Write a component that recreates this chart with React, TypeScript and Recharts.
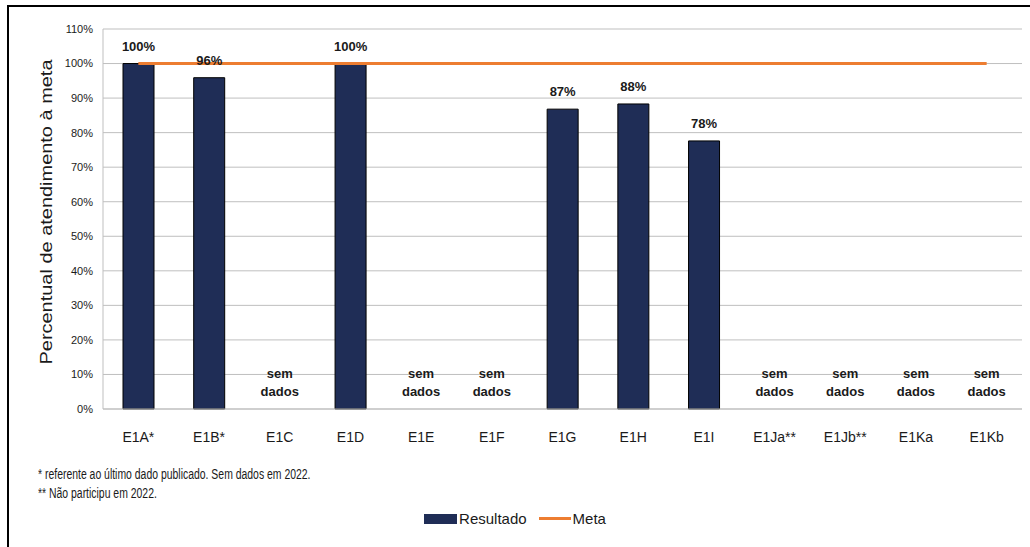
import React from "react";
import { ComposedChart, Bar, Line, XAxis, YAxis, CartesianGrid, Legend, LabelList } from "recharts";

const categories = ["E1A*", "E1B*", "E1C", "E1D", "E1E", "E1F", "E1G", "E1H", "E1I", "E1Ja**", "E1Jb**", "E1Ka", "E1Kb"];
const resultado: (number | null)[] = [100, 95.9, null, 100, null, null, 86.8, 88.3, 77.6, null, null, null, null];
const resultadoLabels = ["100%", "96%", "", "100%", "", "", "87%", "88%", "78%", "", "", "", ""];
const meta = [100, 100, 100, 100, 100, 100, 100, 100, 100, 100, 100, 100, 100];
const yTicks = [0, 10, 20, 30, 40, 50, 60, 70, 80, 90, 100, 110];
const footnotes = ["* referente ao último dado publicado. Sem dados em 2022.", "** Não participu em 2022."];

const NAVY = "#1F2D56";
const ORANGE = "#ED7D31";
const TEXT = "#1a1a1a";
const FONT = "'Liberation Sans', Arial, sans-serif";

const data = categories.map((c, i) => ({ name: c, resultado: resultado[i], meta: meta[i] }));

function BarLabel(props: any) {
  const { x, y, width, value } = props;
  const i = categories.indexOf(value);
  if (i < 0 || resultado[i] == null) return null;
  return (
    <text x={Number(x) + Number(width) / 2} y={Number(y) - 13} textAnchor="middle" fontSize={13} fontWeight={700} fill={TEXT} fontFamily={FONT}>
      {resultadoLabels[i]}
    </text>
  );
}

// category label + "sem dados" note for empty categories
function CategoryTick(props: any) {
  const { x, y, payload } = props;
  const i = categories.indexOf(payload.value);
  return (
    <g>
      {resultado[i] == null && (
        <>
          <text x={x} y={y - 31} textAnchor="middle" fontSize={13} fontWeight={700} fill={TEXT} fontFamily={FONT}>sem</text>
          <text x={x} y={y - 13} textAnchor="middle" fontSize={13} fontWeight={700} fill={TEXT} fontFamily={FONT}>dados</text>
        </>
      )}
      <text x={x} y={y + 33} textAnchor="middle" fontSize={14} fill={TEXT} fontFamily={FONT}>{payload.value}</text>
    </g>
  );
}

function LegendContent() {
  return (
    <div style={{ display: "flex", justifyContent: "center", alignItems: "center", fontFamily: FONT, fontSize: 15, color: TEXT }}>
      <span style={{ display: "inline-block", width: 33, height: 10, background: NAVY, marginRight: 2 }} />
      <span style={{ marginRight: 12 }}>Resultado</span>
      <span style={{ display: "inline-block", width: 32, height: 3, background: ORANGE, marginRight: 2 }} />
      <span>Meta</span>
    </div>
  );
}

export default function App() {
  return (
    <div style={{ position: "fixed", left: 0, top: 0, width: 1030, height: 547, background: "#fff", overflow: "hidden" }}>
      <div style={{ position: "absolute", left: 7, top: 5, width: 1040, height: 560, border: "2px solid #000", boxSizing: "border-box" }} />
      <div style={{ position: "absolute", left: 0, top: 0 }}>
        <ComposedChart width={1030} height={547} data={data} margin={{ top: 29, right: 8, left: 43, bottom: 97 }}>
          <CartesianGrid vertical={false} stroke="#BFBFBF" />
          <XAxis
            dataKey="name"
            height={41}
            tickLine={false}
            tickSize={0}
            tickMargin={0}
            axisLine={{ stroke: "#BFBFBF" }}
            tick={<CategoryTick />}
          />
          <YAxis
            width={60}
            domain={[0, 110]}
            ticks={yTicks}
            tickFormatter={(v: number) => `${v}%`}
            tickLine={false}
            axisLine={{ stroke: "#BFBFBF" }}
            tick={{ fontSize: 11, fill: TEXT, fontFamily: FONT }}
            tickMargin={4}
          />
          <Bar dataKey="resultado" name="Resultado" fill={NAVY} stroke="#000" strokeWidth={1} barSize={31} isAnimationActive={false}>
            <LabelList dataKey="name" content={<BarLabel />} />
          </Bar>
          <Line dataKey="meta" name="Meta" stroke={ORANGE} strokeWidth={3} dot={false} activeDot={false} isAnimationActive={false} />
          <Legend layout="horizontal" verticalAlign="middle" align="center" content={<LegendContent />} wrapperStyle={{ top: 510, left: 0, width: 1030 }} />
        </ComposedChart>
      </div>
      <svg style={{ position: "absolute", left: 0, top: 0 }} width={100} height={440}>
        <text x={52} y={212} transform="rotate(-90 52 212)" textAnchor="middle" fontSize={17} textLength={305} lengthAdjust="spacingAndGlyphs" fill={TEXT} fontFamily={FONT}>
          Percentual de atendimento à meta
        </text>
      </svg>
      {footnotes.map((f, i) => (
        <div
          key={i}
          style={{ position: "absolute", left: 38, top: 466 + i * 19, fontFamily: FONT, fontSize: 14, color: TEXT, whiteSpace: "nowrap", transform: "scaleX(0.745)", transformOrigin: "left center" }}
        >
          {f}
        </div>
      ))}
    </div>
  );
}
